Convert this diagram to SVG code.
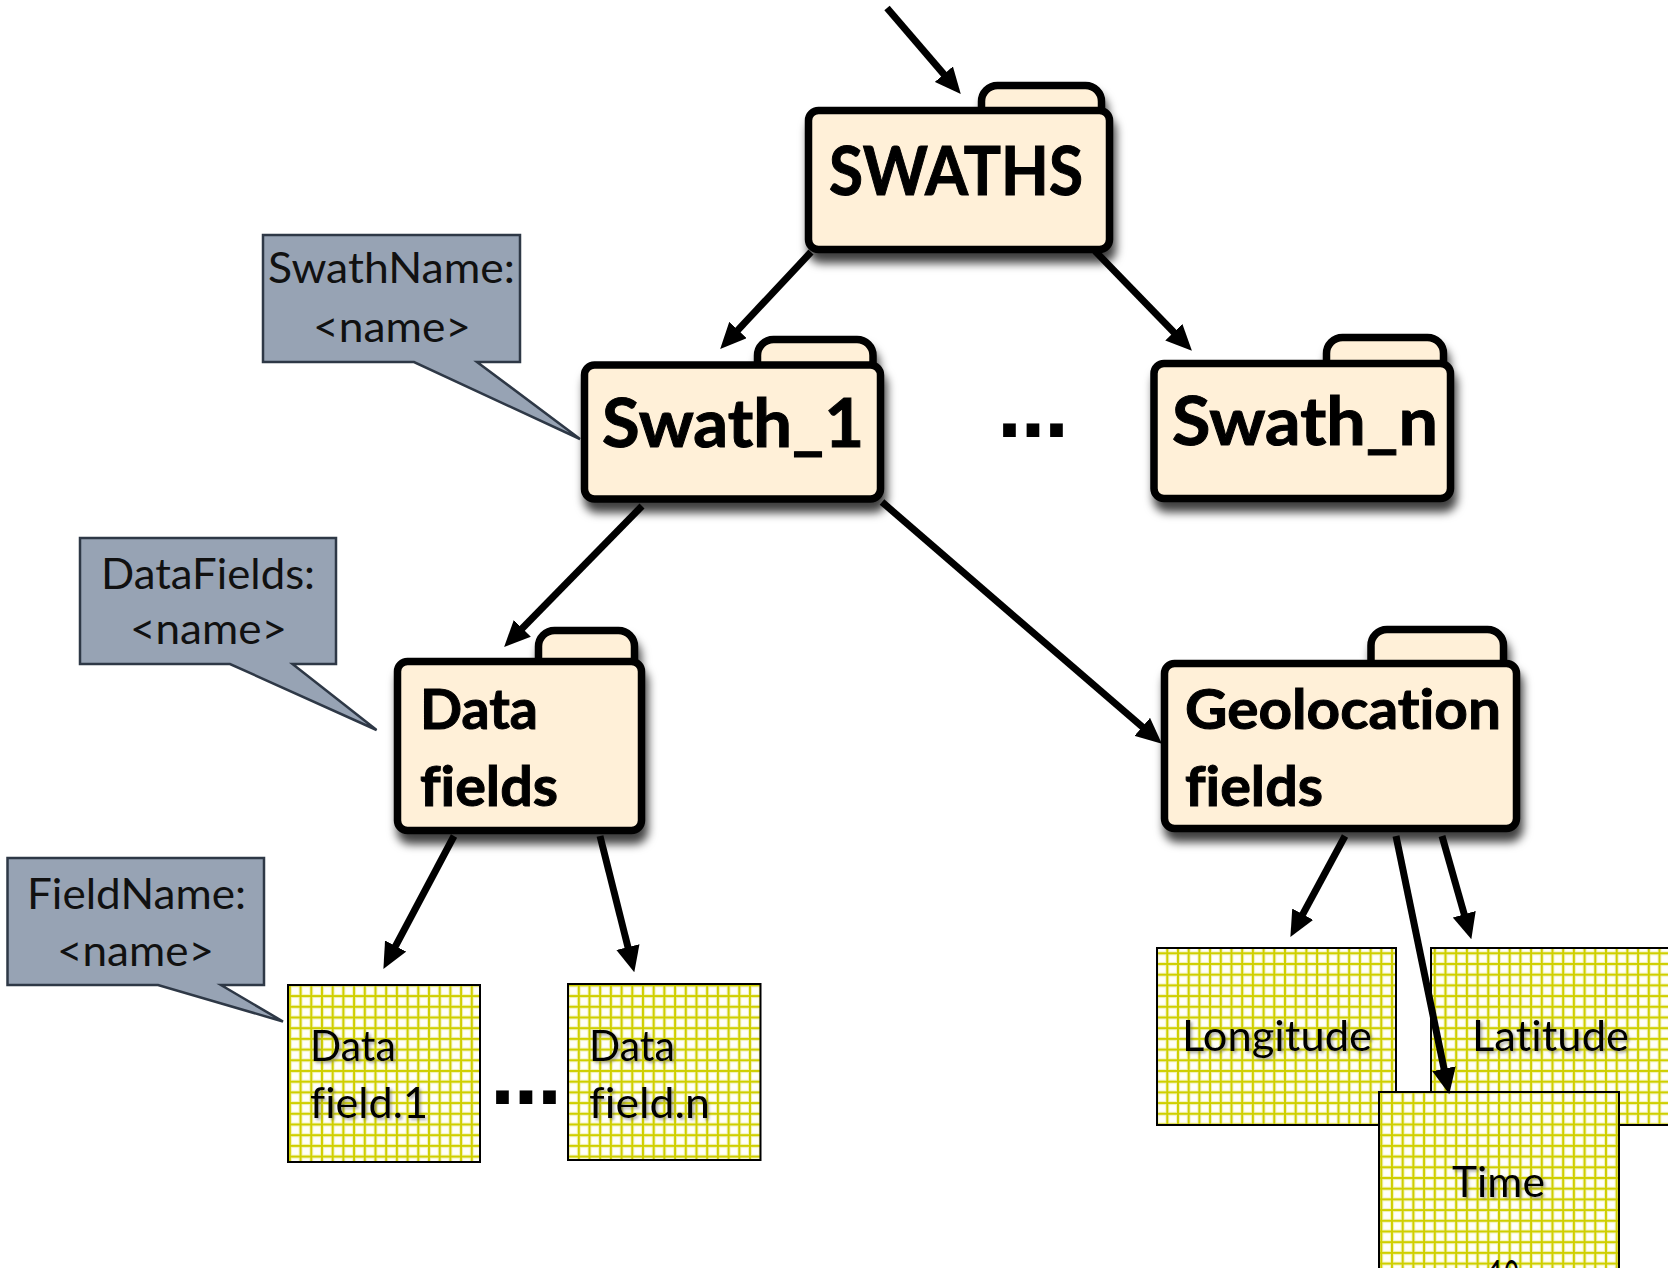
<svg xmlns="http://www.w3.org/2000/svg" width="1668" height="1268" viewBox="0 0 1668 1268">
<style>
.folder{fill:#FFF0D8;stroke:#000;stroke-width:7.5;stroke-linejoin:round}
.big{font-family:Lato,"Liberation Sans",sans-serif;font-weight:bold;fill:#000;stroke:#000;stroke-width:1;font-variant-ligatures:none}
.call{fill:#97A3B4;stroke:#2E3846;stroke-width:2.5}
.ct{font-family:Lato,"Liberation Sans",sans-serif;font-size:43px;fill:#111;text-anchor:start;font-variant-ligatures:none}
.grid{fill:url(#grid);stroke:#000;stroke-width:2}
.gt{font-family:Lato,"Liberation Sans",sans-serif;font-size:42px;fill:#000;font-variant-ligatures:none}
.conn line{stroke:#000;stroke-width:7;marker-end:url(#ah)}
.dots{font-family:"Liberation Sans",sans-serif;font-weight:bold;font-size:90px;fill:#000}
</style>
<defs>
<pattern id="grid" patternUnits="userSpaceOnUse" width="10.7" height="10.7">
<rect width="10.7" height="10.7" fill="#CFCF00"/>
<rect x="2" y="2" width="8.7" height="8.7" fill="#F3F3BE"/>
<rect x="3" y="3" width="6.7" height="6.7" fill="#FFFFFA"/>
</pattern>
<filter id="sh" x="-10%" y="-10%" width="125%" height="140%">
<feDropShadow dx="3" dy="10" stdDeviation="5" flood-color="#000" flood-opacity="0.75"/>
</filter>
<filter id="ts" x="-5%" y="-20%" width="115%" height="150%">
<feDropShadow dx="2" dy="2" stdDeviation="1.5" flood-color="#666" flood-opacity="0.55"/>
</filter>
<marker id="ah" markerUnits="userSpaceOnUse" markerWidth="26" markerHeight="24" viewBox="0 0 24 22" refX="9" refY="11" orient="auto">
<path d="M0,0 L24,11 L0,22 Z" fill="#000"/>
</marker>
</defs>
<rect width="1668" height="1268" fill="#fff"/>

<g id="callout-swathname">
<path class="call" d="M263,235 H520 V362 H477 L580,439 L414,362 H263 Z"/>
<text class="ct" x="268" y="283" textLength="247" lengthAdjust="spacingAndGlyphs">SwathName:</text>
<text class="ct" x="313" y="342" textLength="158" lengthAdjust="spacingAndGlyphs">&lt;name&gt;</text>
</g>
<g id="callout-datafields">
<path class="call" d="M80,538 H336 V664 H292.5 L376.6,730 L230,664 H80 Z"/>
<text class="ct" x="101" y="589" textLength="214" lengthAdjust="spacingAndGlyphs">DataFields:</text>
<text class="ct" x="130" y="644" textLength="157" lengthAdjust="spacingAndGlyphs">&lt;name&gt;</text>
</g>
<g id="callout-fieldname">
<path class="call" d="M7.5,858 H264 V985 H221 L283,1021.5 L158,985 H7.5 Z"/>
<text class="ct" x="27" y="909" textLength="219" lengthAdjust="spacingAndGlyphs">FieldName:</text>
<text class="ct" x="57" y="966" textLength="157" lengthAdjust="spacingAndGlyphs">&lt;name&gt;</text>
</g>

<g id="swaths" filter="url(#sh)">
<rect class="folder" x="981.5" y="85.5" width="120" height="50" rx="16"/>
<rect class="folder" x="808.5" y="110.5" width="301" height="139" rx="10"/>
<text class="big" x="829" y="195" font-size="66" textLength="254" lengthAdjust="spacingAndGlyphs">SWATHS</text>
</g>
<g id="swath1" filter="url(#sh)">
<rect class="folder" x="757.5" y="339.5" width="115.5" height="50" rx="16"/>
<rect class="folder" x="584.5" y="365" width="296" height="134" rx="10"/>
<text class="big" x="602" y="447" font-size="66" textLength="262" lengthAdjust="spacingAndGlyphs">Swath_1</text>
</g>
<g id="swathn" filter="url(#sh)">
<rect class="folder" x="1326.5" y="337.5" width="117" height="50" rx="16"/>
<rect class="folder" x="1154" y="363.5" width="296.5" height="135" rx="10"/>
<text class="big" x="1172" y="445" font-size="66" textLength="266" lengthAdjust="spacingAndGlyphs">Swath_n</text>
</g>
<g id="datafields" filter="url(#sh)">
<rect class="folder" x="538.5" y="630.5" width="96" height="50" rx="16"/>
<rect class="folder" x="397.5" y="661.5" width="244" height="169" rx="10"/>
<text class="big" x="420" y="729" font-size="56" textLength="118" lengthAdjust="spacingAndGlyphs">Data</text>
<text class="big" x="420" y="806" font-size="56" textLength="138" lengthAdjust="spacingAndGlyphs">fields</text>
</g>
<g id="geofields" filter="url(#sh)">
<rect class="folder" x="1371" y="629.5" width="132.5" height="50" rx="16"/>
<rect class="folder" x="1164.5" y="663.5" width="352" height="165" rx="10"/>
<text class="big" x="1185" y="729" font-size="56" textLength="316" lengthAdjust="spacingAndGlyphs">Geolocation</text>
<text class="big" x="1185" y="806" font-size="56" textLength="138" lengthAdjust="spacingAndGlyphs">fields</text>
</g>

<g id="datafield1">
<rect class="grid" x="288" y="985" width="192" height="177"/>
<text class="gt" x="310" y="1061" textLength="86" lengthAdjust="spacingAndGlyphs" filter="url(#ts)">Data</text>
<text class="gt" x="310" y="1118" textLength="118" lengthAdjust="spacingAndGlyphs" filter="url(#ts)">field.1</text>
</g>
<g id="datafieldn">
<rect class="grid" x="568" y="984" width="192.5" height="176"/>
<text class="gt" x="589" y="1061" textLength="86" lengthAdjust="spacingAndGlyphs" filter="url(#ts)">Data</text>
<text class="gt" x="589" y="1118" textLength="121" lengthAdjust="spacingAndGlyphs" filter="url(#ts)">field.n</text>
</g>
<g id="longitude">
<rect class="grid" x="1157" y="948" width="239" height="177"/>
<text class="gt" x="1182" y="1051" textLength="190" lengthAdjust="spacingAndGlyphs" filter="url(#ts)">Longitude</text>
</g>
<g id="latitude">
<rect class="grid" x="1431" y="948" width="250" height="177"/>
<text class="gt" x="1472" y="1051" textLength="157" lengthAdjust="spacingAndGlyphs" filter="url(#ts)">Latitude</text>
</g>
<g id="time">
<rect class="grid" x="1379" y="1092" width="240" height="190"/>
<text class="gt" x="1452" y="1197" textLength="93" lengthAdjust="spacingAndGlyphs" filter="url(#ts)">Time</text>
<text class="gt" x="1489" y="1291" textLength="30" lengthAdjust="spacingAndGlyphs">10</text>
</g>

<g id="ellipses">
<text class="dots" x="997" y="437" textLength="72" lengthAdjust="spacing">...</text>
<text class="dots" x="490" y="1104" textLength="72" lengthAdjust="spacing">...</text>
</g>

<g id="connectors" class="conn">
<line x1="887" y1="8" x2="950.2" y2="81.6"/>
<line x1="811" y1="252" x2="731.3" y2="337.1"/>
<line x1="1095" y1="251" x2="1180.6" y2="339.2"/>
<line x1="642" y1="506" x2="515.5" y2="635.3"/>
<line x1="882" y1="502" x2="1149.6" y2="733.2"/>
<line x1="454" y1="836" x2="391" y2="954.7"/>
<line x1="600" y1="836" x2="630.3" y2="956.5"/>
<line x1="1345" y1="836" x2="1298.1" y2="922.8"/>
<line x1="1396" y1="836" x2="1446" y2="1078.3"/>
<line x1="1442" y1="836" x2="1466.9" y2="923.6"/>
</g>
</svg>
